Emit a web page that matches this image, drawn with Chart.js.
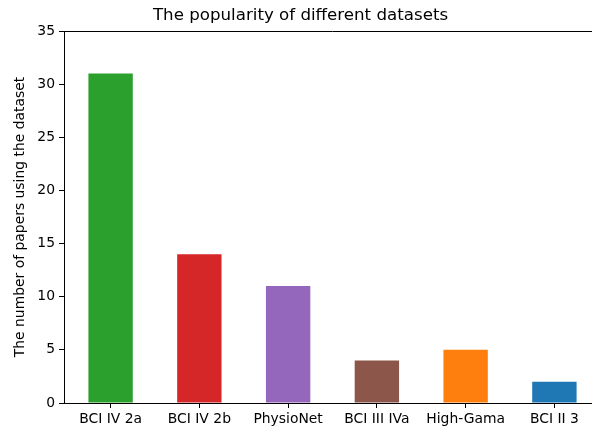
<!DOCTYPE html>
<html>
<head>
<meta charset="utf-8">
<script src="https://cdn.jsdelivr.net/npm/chart.js@4"></script>
<style>
  html, body { margin: 0; padding: 0; overflow: hidden; background: #fff; }
</style>
</head>
<body>
<canvas id="chart" width="620" height="427"></canvas>
<script>
const datasets = ["BCI IV 2a", "BCI IV 2b", "PhysioNet", "BCI III IVa", "High-Gama", "BCI II 3"];
const paperCounts = [31, 14, 11, 4, 5, 2];
const barColors = ["#2ca02c", "#d62728", "#9467bd", "#8c564b", "#ff7f0e", "#1f77b4"];
const yTicks = [0, 5, 10, 15, 20, 25, 30, 35];

const font = "'DejaVu Sans', sans-serif";

// matplotlib keeps the top spine, draw it on top of the plot area
const topSpine = {
  id: "topSpine",
  afterDraw(chart) {
    const { ctx, chartArea } = chart;
    ctx.save();
    ctx.strokeStyle = "#000";
    ctx.lineWidth = 1;
    ctx.beginPath();
    ctx.moveTo(chartArea.left, chartArea.top + 0.5);
    ctx.lineTo(chartArea.right, chartArea.top + 0.5);
    ctx.stroke();
    ctx.restore();
  }
};

new Chart(document.getElementById("chart"), {
  type: "bar",
  data: {
    datasets: [{
      data: paperCounts.map((v, i) => ({ x: i, y: v })),
      backgroundColor: barColors,
      borderWidth: 0,
      inflateAmount: 0,
      barPercentage: 0.5,
      categoryPercentage: 1
    }]
  },
  options: {
    responsive: false,
    animation: false,
    layout: { padding: { left: 0, right: 19, top: 0, bottom: 0 } },
    plugins: {
      legend: { display: false },
      tooltip: { enabled: false },
      title: {
        display: true,
        text: "The popularity of different datasets",
        color: "#000",
        font: { family: font, size: 16.67, weight: "normal" },
        padding: { top: 6, bottom: 5 }
      }
    },
    scales: {
      x: {
        type: "linear",
        offset: false,
        min: -0.525,
        max: 5.525,
        afterBuildTicks: (scale) => { scale.ticks = datasets.map((_, i) => ({ value: i })); },
        afterFit: (scale) => { scale.height = 24; },
        ticks: {
          color: "#000",
          font: { family: font, size: 13.9 },
          padding: 3,
          maxRotation: 0,
          autoSkip: false,
          callback: (v) => datasets[v]
        },
        grid: { offset: false, drawOnChartArea: false, tickLength: 5, color: "#000", lineWidth: 1 },
        border: { color: "#000", width: 1 }
      },
      y: {
        min: 0,
        max: 35,
        afterBuildTicks: (scale) => { scale.ticks = yTicks.map(v => ({ value: v })); },
        afterFit: (scale) => { scale.width = 64; },
        ticks: {
          color: "#000",
          font: { family: font, size: 13.9 },
          padding: 4
        },
        title: {
          display: true,
          text: "The number of papers using the dataset",
          color: "#000",
          font: { family: font, size: 13.9 },
          padding: { top: 12, bottom: 0 }
        },
        grid: { drawOnChartArea: false, tickLength: 5, color: "#000", lineWidth: 1 },
        border: { color: "#000", width: 1 }
      }
    }
  },
  plugins: [topSpine]
});
</script>
</body>
</html>
